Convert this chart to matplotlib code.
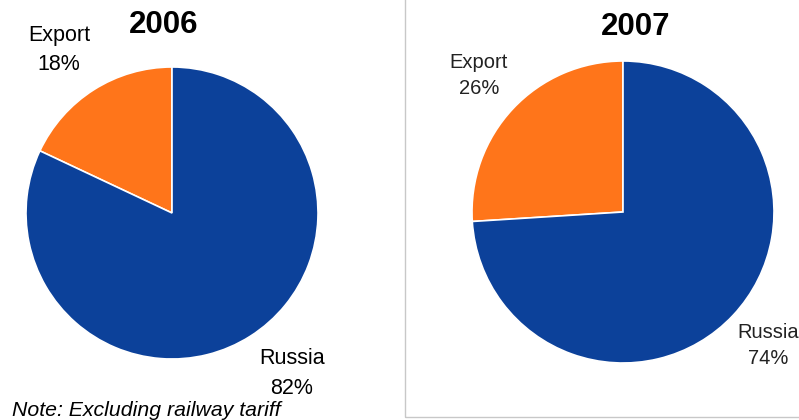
import matplotlib
matplotlib.use("Agg")
import matplotlib.pyplot as plt
from matplotlib.patches import Rectangle

plt.rcParams['font.family'] = ['Liberation Sans', 'DejaVu Sans']

# Данные
years = ["2006", "2007"]
categories = ["Export", "Russia"]
shares_2006 = [18, 82]
shares_2007 = [26, 74]
colors = ["#FF751A", "#0C419A"]

W, H = 799, 420
fig = plt.figure(figsize=(W / 100, H / 100), dpi=100)


def px_axes(cx, cy, r):
    # оси по пикселям (y сверху)
    return fig.add_axes([(cx - r) / W, (H - cy - r) / H, 2 * r / W, 2 * r / H])


def draw_pie(ax, values):
    ax.pie(values, colors=colors, startangle=90, counterclock=True,
           radius=1, wedgeprops=dict(edgecolor="white", linewidth=1.2))
    ax.set_xlim(-1, 1)
    ax.set_ylim(-1, 1)
    ax.set_aspect("equal")
    ax.axis("off")


# рамка правой панели
fig.patches.append(Rectangle((405 / W, 3 / H), 1, 1, transform=fig.transFigure,
                             fill=False, edgecolor="#C8C8C8", linewidth=1))

ax1 = px_axes(172, 213, 146)
draw_pie(ax1, shares_2006)
ax2 = px_axes(623, 212, 151)
draw_pie(ax2, shares_2007)


def ftext(x, y, s, **kw):
    fig.text(x / W, 1 - y / H, s, ha="center", va="center", **kw)


ftext(164, 25, years[0], fontsize=22.5, fontweight="bold")
ftext(636, 27, years[1], fontsize=22.5, fontweight="bold")

ftext(59, 35, categories[0], fontsize=15.5)
ftext(59, 65, f"{shares_2006[0]}%", fontsize=15.5)
ftext(292, 358, categories[1], fontsize=15.5)
ftext(292, 388, f"{shares_2006[1]}%", fontsize=15.5)

ftext(479, 62, categories[0], fontsize=14.5, color="#222222")
ftext(479, 89, f"{shares_2007[0]}%", fontsize=14.5, color="#222222")
ftext(768, 332, categories[1], fontsize=14.5, color="#222222")
ftext(768, 358, f"{shares_2007[1]}%", fontsize=14.5, color="#222222")

fig.text(12 / W, 1 - 411 / H, "Note: Excluding railway tariff", fontsize=15.3,
         style="italic", ha="left", va="center")

fig.savefig("out.png", dpi=100)
